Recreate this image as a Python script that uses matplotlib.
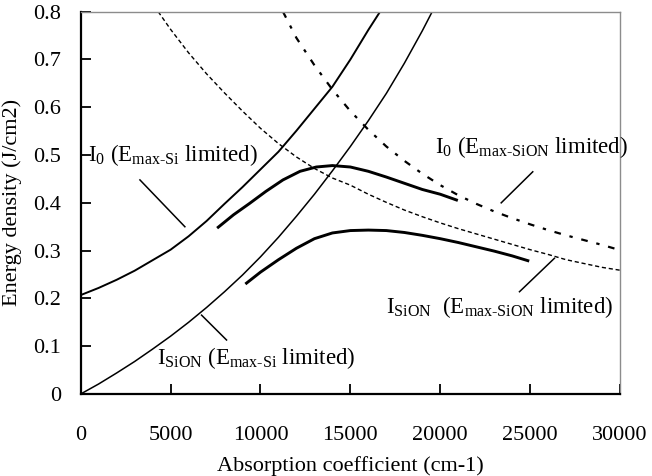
import matplotlib
matplotlib.use("Agg")
import matplotlib.pyplot as plt

plt.rcParams['font.family'] = ['Liberation Serif', 'DejaVu Serif']
plt.rcParams['mathtext.fontset'] = 'custom'
plt.rcParams['mathtext.rm'] = 'Liberation Serif'
plt.rcParams['mathtext.it'] = 'Liberation Serif:italic'
plt.rcParams['mathtext.bf'] = 'Liberation Serif:bold'

# I0 (Emax-Si limited)
i0_si_x = [0, 1000, 2000, 3000, 4000, 5000, 6000, 7000, 8000, 9000, 10000, 11000,
           12000, 13000, 14000, 15000, 16000, 16650]
i0_si_y = [0.207, 0.222, 0.239, 0.258, 0.280, 0.302, 0.330, 0.362, 0.398, 0.433, 0.470, 0.507,
           0.551, 0.597, 0.643, 0.700, 0.762, 0.80]

# ISiON (Emax-Si limited)
ision_si_x = [0, 1000, 2000, 3000, 4000, 5000, 6000, 7000, 8000, 9000, 10000, 11000,
              12000, 13000, 14000, 15000, 16000, 17000, 18000, 19000, 19550]
ision_si_y = [0, 0.021, 0.044, 0.068, 0.094, 0.121, 0.150, 0.181, 0.214, 0.249, 0.287, 0.328,
              0.372, 0.418, 0.467, 0.518, 0.572, 0.629, 0.692, 0.760, 0.80]

# I0 thick segment
i0_seg_x = [7650, 8500, 9400, 10300, 11250, 12200, 13100, 14000, 15000, 16000, 17000,
            18000, 19000, 20000, 20900]
i0_seg_y = [0.349, 0.375, 0.399, 0.424, 0.448, 0.466, 0.475, 0.478, 0.475, 0.466, 0.454,
            0.441, 0.428, 0.418, 0.406]

# ISiON thick segment
ision_seg_x = [9222, 10000, 11000, 12000, 13000, 14000, 15000, 16000, 17000, 18000, 19000,
               20000, 21000, 22000, 23000, 24000, 24870]
ision_seg_y = [0.232, 0.255, 0.281, 0.305, 0.325, 0.337, 0.342, 0.343, 0.342, 0.338, 0.332,
               0.325, 0.317, 0.308, 0.299, 0.289, 0.279]

# ISiON (Emax-SiON limited), fine dashes
ision_sion_x = [4311, 5000, 6000, 7000, 8000, 9000, 10000, 11000, 12000, 13000, 14000, 15000,
                16000, 17000, 18000, 19000, 20000, 21000, 22000, 23000, 24000, 25000, 26000,
                27000, 28000, 29000, 30000]
ision_sion_y = [0.80, 0.763, 0.714, 0.670, 0.630, 0.592, 0.556, 0.524, 0.496, 0.472, 0.452, 0.437,
                0.418, 0.401, 0.385, 0.371, 0.358, 0.346, 0.335, 0.324, 0.313, 0.302, 0.292,
                0.281, 0.273, 0.265, 0.259]

# I0 (Emax-SiON limited), coarse dashes
i0_sion_x = [11250, 12000, 13000, 14000, 15000, 16000, 17000, 18000, 19000, 20000, 21000,
             22000, 23000, 24000, 25000, 26000, 27000, 28000, 29000, 30000]
i0_sion_y = [0.80, 0.745, 0.688, 0.637, 0.592, 0.553, 0.518, 0.488, 0.461, 0.437, 0.416,
             0.398, 0.382, 0.368, 0.355, 0.343, 0.332, 0.322, 0.312, 0.301]

x_ticks = [0, 5000, 10000, 15000, 20000, 25000, 30000]
y_ticks = [0, 0.1, 0.2, 0.3, 0.4, 0.5, 0.6, 0.7, 0.8]
y_tick_labels = ['0', '0.1', '0.2', '0.3', '0.4', '0.5', '0.6', '0.7', '0.8']

fig = plt.figure(figsize=(6.52, 4.76), dpi=100)
ax = fig.add_axes([0.1238, 0.1723, 0.951 - 0.1238, 0.9754 - 0.1723])

ax.plot(i0_si_x, i0_si_y, color='black', lw=1.4)
ax.plot(ision_si_x, ision_si_y, color='black', lw=1.1)
ax.plot(i0_seg_x, i0_seg_y, color='black', lw=2.1)
ax.plot(ision_seg_x, ision_seg_y, color='black', lw=2.1)
ax.plot(ision_sion_x, ision_sion_y, color='black', lw=1.0, linestyle=(0, (3, 2)))
ax.plot(i0_sion_x, i0_sion_y, color='black', lw=1.6, linestyle=(0, (3, 4, 1.5, 4)))

ax.set_xlim(0, 30000)
ax.set_ylim(0, 0.8)
ax.set_xticks(x_ticks)
ax.set_xticklabels([str(t) for t in x_ticks])
ax.set_yticks(y_ticks)
ax.set_yticklabels(y_tick_labels)
ax.tick_params(axis='x', direction='in', length=7, width=1.3, pad=23, labelsize=16)
ax.tick_params(axis='y', direction='in', length=7, width=1.3, pad=14, labelsize=16)

for side in ['left', 'bottom']:
    ax.spines[side].set_linewidth(1.6)
    ax.spines[side].set_color('black')
for side in ['top', 'right']:
    ax.spines[side].set_linewidth(1.0)
    ax.spines[side].set_color('#8c8c8c')

ax.set_xlabel('Absorption coefficient (cm-1)', fontsize=16, labelpad=8)
ax.set_ylabel('Energy density (J/cm2)', fontsize=16, labelpad=8)

# curve labels and leader lines
fs = 16.5
ax.text(405, 0.5, r'I$_0$ (E$_{\text{max-Si}}$ limited)', fontsize=fs, va='center', ha='left')
ax.plot([3294, 5794], [0.448, 0.350], color='black', lw=1.1)

ax.text(19683, 0.517, r'I$_0$ (E$_{\text{max-SiON}}$ limited)', fontsize=fs, va='center', ha='left',
        clip_on=False)
ax.plot([25144, 23389], [0.465, 0.400], color='black', lw=1.1)

ax.text(16994, 0.183, r'I$_{\text{SiON}}$  (E$_{\text{max-SiON}}$ limited)', fontsize=fs,
        va='center', ha='left')
ax.plot([24406, 26350], [0.214, 0.284], color='black', lw=1.1)

ax.text(4222, 0.075, r'I$_{\text{SiON}}$ (E$_{\text{max-Si}}$ limited)', fontsize=fs,
        va='center', ha='left')
ax.plot([8111, 6722], [0.113, 0.165], color='black', lw=1.1)

fig.savefig('out.png', dpi=100)
